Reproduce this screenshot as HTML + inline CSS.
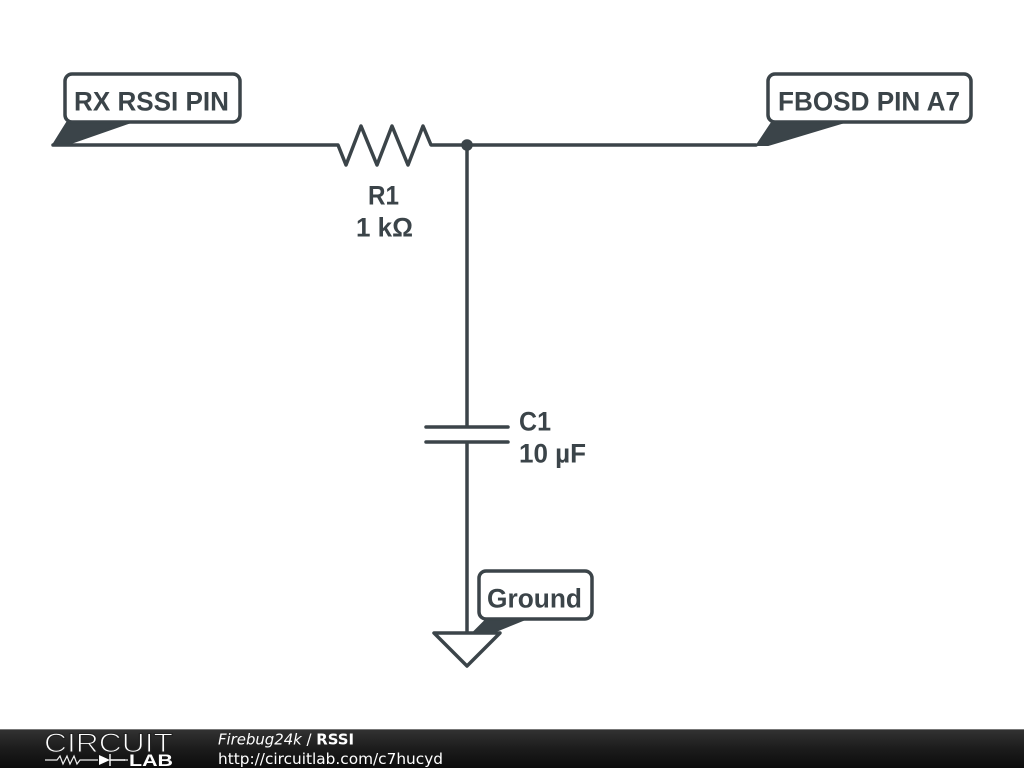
<!DOCTYPE html>
<html>
<head>
<meta charset="utf-8">
<style>
html,body{margin:0;padding:0;background:#fff;width:1024px;height:768px;overflow:hidden}
svg{display:block}
</style>
</head>
<body>
<svg width="1024" height="768" viewBox="0 0 1024 768" xmlns="http://www.w3.org/2000/svg">
<defs>
<linearGradient id="f" x1="0" y1="0" x2="0" y2="1">
<stop offset="0" stop-color="#333"/>
<stop offset="0.5" stop-color="#1c1c1c"/>
<stop offset="1" stop-color="#0c0c0c"/>
</linearGradient>
</defs>
<rect width="1024" height="768" fill="#fff"/>
<g fill="#3b4449" stroke="#3b4449" stroke-width="2" stroke-linejoin="round">
<path d="M53 145L68 121H134L65 145Z"/>
<path d="M757 145L773 121H848L768 145Z"/>
<path d="M473 633L488 618H528L491 633Z"/>
</g>
<g fill="none" stroke="#3b4449" stroke-width="3.5" stroke-linejoin="round" stroke-linecap="round">
<path d="M53 145H338L346 165L361 126L377 165L392 126L408 165L423 126L431 145H756"/>
<path d="M467 145V427M426 427H508M426 442H508M467 442V633"/>
<path d="M434 633H500L467 666Z" fill="#fff"/>
<rect x="65" y="74" width="175" height="48" rx="7" fill="#fff"/>
<rect x="768" y="74" width="203" height="48" rx="7" fill="#fff"/>
<rect x="479" y="571" width="113" height="48" rx="7" fill="#fff"/>
</g>
<circle cx="467" cy="145" r="5.8" fill="#3b4449"/>
<g font-family="'Liberation Sans',sans-serif" font-weight="700" font-size="26.5" fill="#3b4449">
<text x="74" y="110.5" textLength="155" lengthAdjust="spacingAndGlyphs">RX RSSI PIN</text>
<text x="778" y="110.5" textLength="182" lengthAdjust="spacingAndGlyphs">FBOSD PIN A7</text>
<text x="487" y="607.5" textLength="95" lengthAdjust="spacingAndGlyphs">Ground</text>
<text x="368" y="204.5" textLength="31" lengthAdjust="spacingAndGlyphs">R1</text>
<text x="356" y="236.5" textLength="57" lengthAdjust="spacingAndGlyphs">1 kΩ</text>
<text x="519" y="430.5" textLength="32" lengthAdjust="spacingAndGlyphs">C1</text>
<text x="519" y="462.5" textLength="67" lengthAdjust="spacingAndGlyphs">10 µF</text>
</g>
<rect y="729" width="1024" height="39" fill="url(#f)"/>
<rect y="729" width="1024" height="1" fill="#777"/>
<text x="44" y="752" font-family="'Liberation Sans',sans-serif" font-size="27" fill="#fff" stroke="#222" stroke-width="1.1" textLength="129" lengthAdjust="spacingAndGlyphs">CIRCUIT</text>
<path d="M45 760H57L60 756L63 764L67 756L70 764L74 756L77 764L80 760H98M124 760H128" fill="none" stroke="#eee" stroke-width="1.2"/>
<path d="M99 755L110 760L99 765Z" fill="#fff"/>
<path d="M110 754V766M110 760H125" fill="none" stroke="#fff" stroke-width="1.4"/>
<text x="129" y="766" font-family="'Liberation Sans',sans-serif" font-size="17" font-weight="700" fill="#fff" textLength="44" lengthAdjust="spacingAndGlyphs">LAB</text>
<g font-family="'DejaVu Sans',sans-serif" font-size="15" fill="#fff">
<text x="218" y="744.5" textLength="136" lengthAdjust="spacingAndGlyphs"><tspan font-style="italic">Firebug24k</tspan> / <tspan font-weight="700">RSSI</tspan></text>
<text x="218" y="764" textLength="225" lengthAdjust="spacingAndGlyphs">http://circuitlab.com/c7hucyd</text>
</g>
</svg>
</body>
</html>
